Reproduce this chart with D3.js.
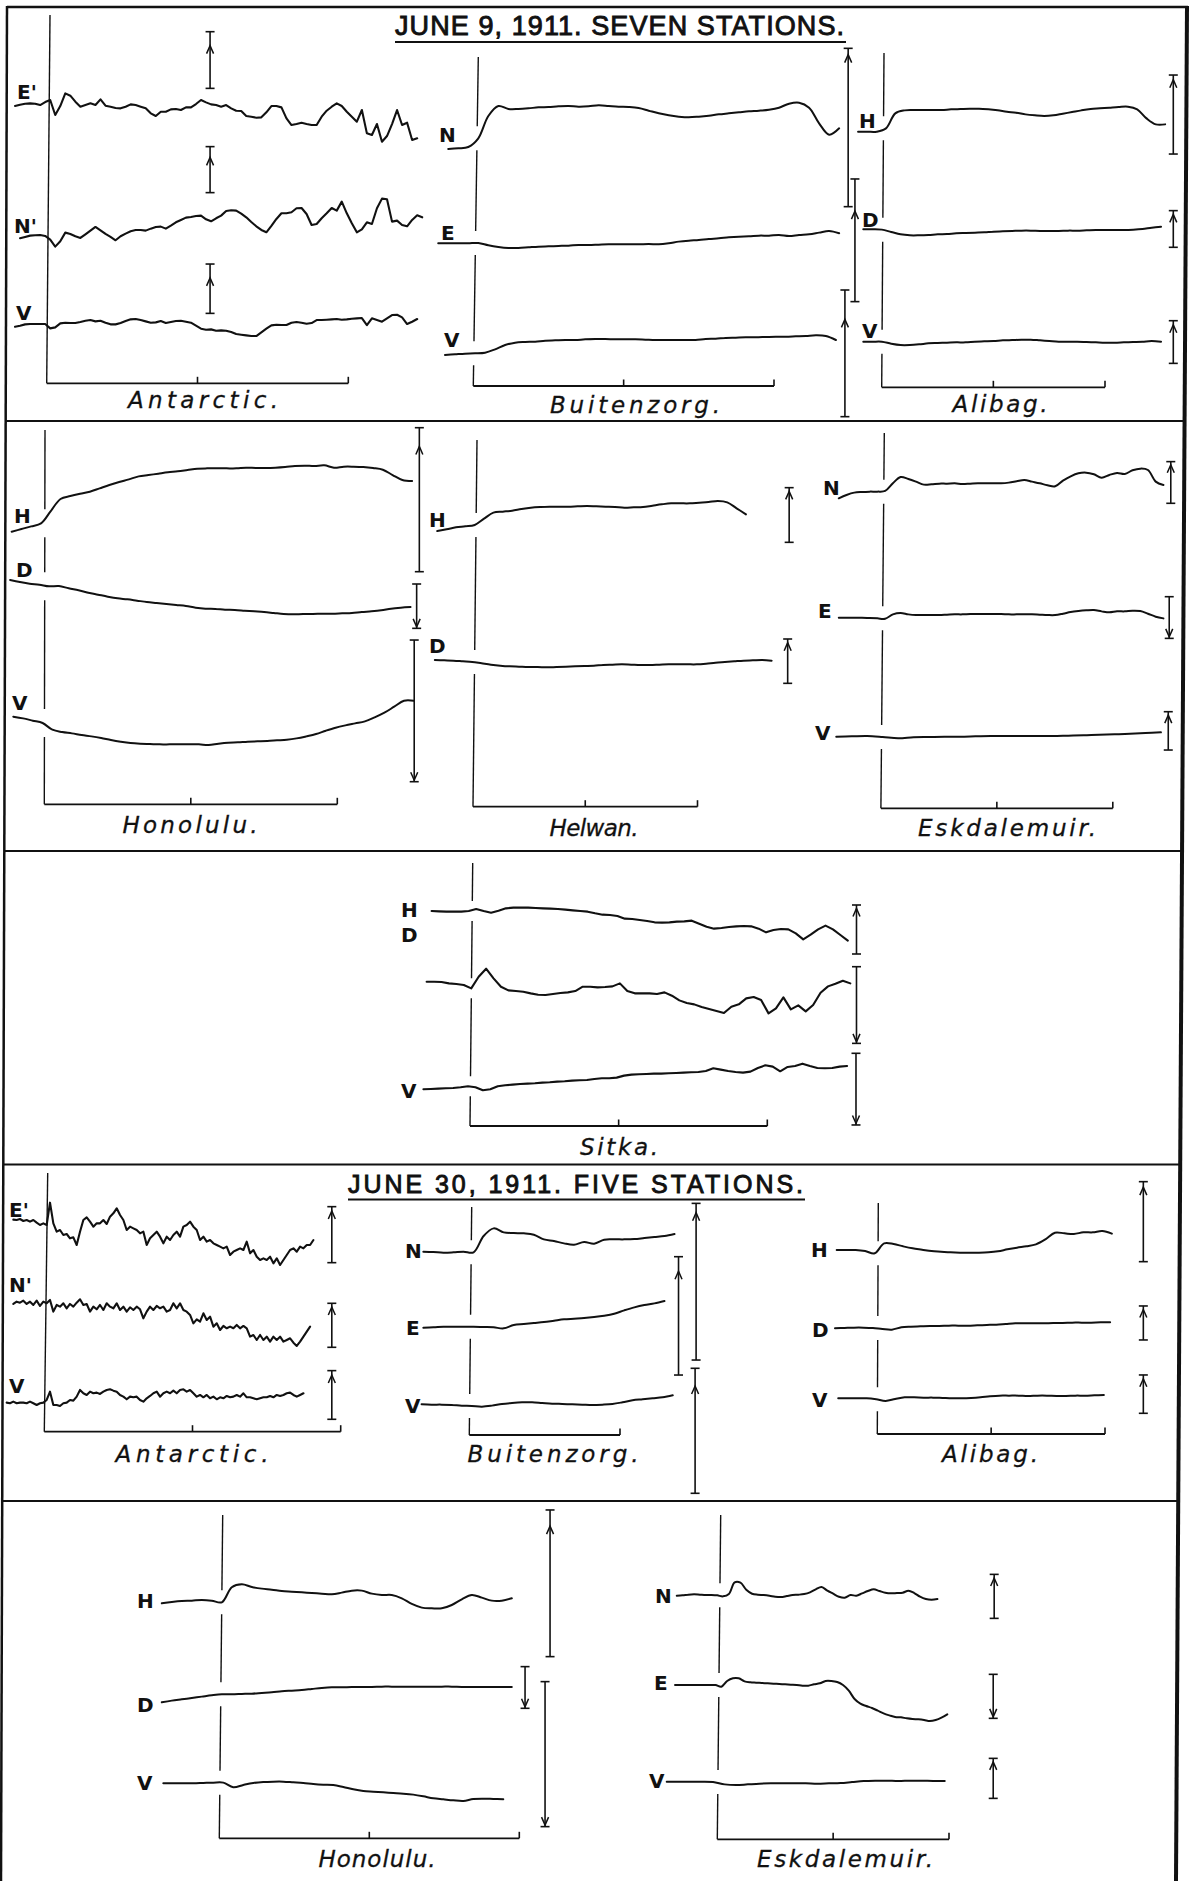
<!DOCTYPE html>
<html><head><meta charset="utf-8">
<script src="https://cdn.jsdelivr.net/npm/d3@7"></script>
<style>html,body{margin:0;padding:0;background:#fff}svg{display:block}</style>
</head><body>
<svg id="c" width="1193" height="1881"></svg>
<script>
// ---------------- DATA (deflections, arbitrary plate units, positive = up) ----------------
const titles = ["JUNE 9, 1911. SEVEN STATIONS.", "JUNE 30, 1911. FIVE STATIONS."];
const stationNames = ["Antarctic.","Buitenzorg.","Alibag.","Honolulu.","Helwan.","Eskdalemuir.","Sitka.",
                      "Antarctic.","Buitenzorg.","Alibag.","Honolulu.","Eskdalemuir."];
const bracketMinutes = [120,120,120,120,120,120,120,120,60,120,120,120];

// June 9 — Antarctic (E', N', V), step 2 min
const j9AntE = [2,6,9,10,9,5,14,20,-25,2,40,33,15,0,5,10,5,22,3,0,-4,-5,0,7,5,0,-5,-20,-28,-15,-15,-8,-7,-10,-2,-2,8,20,13,7,5,0,5,-5,-12,-13,-28,-30,-33,-32,-17,2,2,-2,-35,-55,-52,-48,-52,-55,-55,-30,-12,0,10,2,-15,-30,-45,-10,-80,-85,-52,-105,-88,-52,-10,-55,-48,-100,-95];
const j9AntN = [0,4,8,9,10,7,-4,-25,-9,17,13,6,1,12,23,34,24,13,4,-6,6,14,21,25,25,23,29,34,35,29,38,48,55,62,64,67,68,57,51,60,68,82,84,83,74,63,49,36,25,18,37,58,75,75,78,90,91,73,40,43,60,75,91,83,110,75,45,18,27,48,43,90,119,117,50,53,40,36,55,69,63];
const j9AntV = [0,3,7,8,8,8,8,-5,-2,10,12,11,11,14,18,20,16,18,12,7,7,11,17,22,23,20,16,12,13,17,11,14,17,18,15,12,3,-6,-9,-8,-12,-11,-12,-16,-22,-24,-26,-28,-28,-17,-6,4,6,5,5,12,14,12,9,11,20,20,21,22,23,21,22,24,25,26,5,25,20,15,25,35,36,28,8,15,23];
// June 9 — Buitenzorg (N, E, V), step 4 min
const j9BuiN = [0,2,6,32,99,129,120,120,122,125,126,128,129,127,128,131,129,127,126,123,115,107,101,97,95,97,100,104,107,110,113,115,118,124,136,139,124,77,43,62];
const j9BuiE = [0,0,0,0,1,-6,-11,-14,-14,-12,-10,-9,-8,-7,-5,-5,-4,-3,-3,-3,-3,-2,-3,0,5,8,10,13,15,18,20,21,23,23,25,22,25,27,32,37,30];
const j9BuiV = [0,2,4,5,7,17,30,37,39,40,43,44,45,45,47,48,48,47,47,47,46,45,45,45,45,45,48,49,51,52,53,53,54,55,55,56,57,59,57,45];
// June 9 — Alibag (H, D, V), step 5 min
const j9AliH = [0,0,0,10,55,64,65,65,65,65,67,68,69,69,67,64,60,57,52,49,47,49,54,59,64,68,70,72,74,75,67,40,22,22];
const j9AliD = [0,0,-1,-8,-15,-18,-18,-17,-15,-14,-12,-11,-10,-9,-7,-6,-5,-4,-4,-5,-5,-5,-4,-4,-3,-2,-2,-2,-2,-1,1,5,8];
const j9AliV = [0,0,0,-6,-10,-10,-8,-5,-4,-3,-2,-2,0,1,2,4,5,6,6,4,2,0,0,0,-1,-2,-3,-3,-2,-1,0,2,0];
// June 9 — Honolulu (H, D, V), step 4 min
const j9HonH = [0,8,16,25,62,98,107,114,120,130,140,149,157,166,170,174,178,181,185,189,190,190,190,190,192,191,191,192,194,197,198,197,199,192,195,195,194,191,186,170,155,152];
const j9HonD = [0,-6,-11,-14,-19,-18,-25,-31,-38,-44,-50,-55,-58,-62,-66,-69,-72,-75,-78,-83,-86,-87,-89,-90,-92,-94,-96,-99,-102,-103,-102,-102,-101,-101,-100,-99,-96,-94,-91,-86,-83,-81];
const j9HonV = [0,-5,-12,-19,-39,-46,-50,-55,-59,-64,-70,-75,-79,-81,-82,-83,-83,-83,-83,-83,-85,-81,-78,-77,-75,-74,-73,-71,-69,-65,-59,-52,-42,-33,-26,-20,-14,-2,12,30,48,48];
// June 9 — Helwan (H, D), step 5 min
const j9HelH = [0,5,11,14,18,37,55,58,61,66,70,72,73,73,73,74,75,74,73,72,70,71,72,76,80,83,83,83,85,87,90,86,68,50];
const j9HelD = [0,-1,-2,-4,-6,-10,-14,-17,-19,-20,-21,-21,-22,-21,-20,-19,-18,-17,-15,-14,-13,-14,-15,-15,-14,-13,-13,-13,-13,-11,-8,-6,-4,-2,-1,0,-2];
// June 9 — Eskdalemuir (N, E step 4 min; V step 8 min)
const j9EskN = [0,10,17,19,20,20,22,45,64,58,50,41,42,44,44,45,43,44,45,45,45,45,47,51,55,50,45,39,36,53,66,75,77,72,62,70,76,73,84,89,85,50,40];
const j9EskE = [0,0,0,0,-1,-2,-3,10,14,10,8,8,8,8,9,10,10,11,11,11,11,11,10,10,10,10,9,8,8,12,17,20,22,23,19,16,19,19,21,20,12,3,-2];
const j9EskV = [0,1,2,-1,-5,-2,-1,0,0,1,2,2,2,2,2,3,4,6,7,9,11,13];
// June 9 — Sitka (H, D, V), step 3 min
const j9SitH = [0,-1,-2,-2,-2,0,6,0,-5,1,8,10,10,10,9,8,7,6,4,2,0,-2,-7,-11,-12,-15,-23,-24,-27,-30,-34,-35,-34,-32,-31,-29,-38,-47,-53,-51,-48,-46,-45,-46,-53,-64,-57,-54,-55,-67,-85,-71,-55,-44,-55,-72,-89];
const j9SitD = [0,0,-1,-5,-7,-10,-20,15,39,10,-15,-26,-28,-30,-35,-39,-40,-37,-34,-32,-28,-15,-15,-17,-16,-14,-5,-28,-35,-35,-35,-37,-32,-42,-56,-64,-68,-76,-82,-88,-94,-75,-68,-50,-46,-55,-95,-80,-47,-83,-71,-89,-70,-33,-14,-6,3,-5];
const j9SitV = [0,1,2,3,4,6,9,6,-3,0,9,12,14,16,17,18,20,21,23,24,26,27,28,31,33,33,35,41,44,45,46,47,47,48,49,50,51,52,55,63,59,55,52,50,53,64,72,68,54,67,70,77,70,64,63,64,68,70];
// June 30 — Antarctic (E', N', V), step 1.35 min
const j30AntE = [1,0,3,-3,0,-5,0,-8,-15,-10,-15,52,-10,-35,-30,-45,-42,-55,-52,-75,-35,0,8,-5,-20,-10,-10,0,-12,10,20,35,15,0,-30,-20,-25,-30,-40,-35,-75,-55,-45,-35,-50,-70,-50,-60,-45,-35,-50,-20,-15,-5,-20,-30,-60,-50,-65,-60,-70,-75,-80,-85,-80,-105,-95,-90,-85,-90,-65,-100,-90,-110,-120,-115,-120,-110,-130,-115,-135,-120,-105,-90,-85,-95,-80,-85,-75,-75,-60];
const j30AntN = [-2,5,2,8,-2,5,-5,8,-8,5,0,10,-25,-5,-10,0,-15,-2,-10,2,12,-5,-2,-25,-10,-18,-5,-20,0,-10,-15,0,-20,-10,-25,-12,-20,-10,-18,-45,-25,-10,-20,-8,-15,-10,-25,-20,0,-15,0,-20,-25,-35,-60,-48,-55,-30,-50,-40,-70,-60,-80,-68,-75,-70,-75,-65,-75,-68,-75,-100,-95,-110,-95,-110,-100,-115,-100,-110,-100,-115,-110,-105,-118,-128,-115,-100,-85,-70];
const j30AntV = [2,0,5,0,2,2,0,5,0,-5,0,2,10,35,-5,-5,-8,0,2,10,8,20,40,30,25,35,30,32,28,35,40,42,38,35,25,20,12,20,18,20,10,5,15,22,30,35,20,30,35,30,38,30,40,42,35,40,30,20,25,18,25,15,20,12,18,15,22,18,20,25,20,30,18,18,15,12,15,18,18,22,18,25,22,25,30,32,25,20,25,30];
// June 30 — Buitenzorg (N, E, V), step 4 min
const j30BuiN = [0,-1,-3,-2,0,-2,47,70,58,56,55,51,37,32,25,21,29,24,36,37,37,38,41,44,47,53];
const j30BuiE = [0,1,3,3,3,3,2,1,-2,8,11,14,17,21,25,27,29,32,36,42,52,61,68,73,80];
const j30BuiV = [0,-1,-1,-2,-4,-5,-7,-4,1,4,6,6,4,2,1,0,-1,-2,-1,1,6,12,15,18,21,27];
// June 30 — Alibag (H, D, V), step 5 min
const j30AliH = [0,0,0,-3,-10,20,18,11,5,1,-3,-5,-7,-8,-8,-8,-7,-4,2,7,11,17,32,52,50,48,53,53,57,49];
const j30AliD = [0,1,2,2,1,-2,-4,3,5,6,7,7,8,8,8,9,10,11,13,15,15,15,15,16,16,17,17,17,18,18];
const j30AliV = [0,0,0,0,-3,-8,-2,3,3,2,2,1,0,0,1,3,6,8,8,8,7,8,8,7,7,8,8,9,10];
// June 30 — Honolulu (H, D, V), step 4 min
const j30HonH = [0,4,7,8,10,8,3,48,57,49,44,41,37,35,33,31,29,27,32,38,38,29,25,25,15,-2,-13,-15,-15,-5,12,25,17,8,8,15];
const j30HonD = [0,5,9,13,17,21,24,24,25,26,28,30,33,35,37,40,43,45,45,46,46,46,47,47,47,47,47,47,47,47,46,46,46,46,46,46];
const j30HonV = [0,0,0,0,1,2,2,-12,-5,1,4,5,5,3,1,-2,-4,-5,-11,-18,-23,-25,-27,-29,-31,-34,-39,-45,-48,-51,-53,-47,-46,-47,-48];
// June 30 — Eskdalemuir (N, E step 3 min; V step 6 min)
const j30EskN = [0,1,3,4,3,2,2,1,-2,5,40,39,18,6,3,2,0,-3,-4,-1,2,3,5,10,19,26,15,6,-3,-6,2,0,7,14,19,14,9,7,8,9,15,8,-3,-10,-12,-10];
const j30EskE = [0,0,0,0,0,0,0,0,-5,12,20,20,11,8,7,6,5,4,3,2,1,0,-2,-2,2,5,12,12,9,0,-17,-42,-56,-63,-69,-77,-85,-91,-96,-97,-100,-102,-103,-105,-108,-105,-98,-88];
const j30EskV = [0,0,0,0,-1,-8,-10,-8,-6,-5,-5,-5,-5,-6,-5,-4,-1,2,3,3,2,3,3,2,2];

// ---------------- LAYOUT ----------------
// trace: [label, labelX, labelBaseline, values, startMinute, stepMinutes, baselineY, jagged]
// bar:   [minute, traceIndex, topValue, bottomValue, arrowDir, arrowFraction]
const layout = [
 {n:0, x0:46.7, x1:348.3, by:383.3, top:15, slant:3.3, gap:0, nx:203, ny:408, nw:150,
  tr:[["E'",17,99,j9AntE,-12.6,2,106.7,1],["N'",14,233,j9AntN,-10.6,2,238.3,1],["V",16,320,j9AntV,-12.6,2,326.7,1]],
  bars:[[65,0,225,55,'u',0.22],[65,1,275,137,'u',0.2],[65,2,188,40,'u',0.25]]},
 {n:1, x0:473.3, x1:774, by:386, top:57, slant:5, gap:12, nx:635, ny:413, nw:170,
  tr:[["N",439,141.7,j9BuiN,-10,4,149,0],["E",441,240,j9BuiE,-14,4,243.3,0],["V",444,346.7,j9BuiV,-11.3,4,355,0]],
  bars:[[149.6,0,302,-173,'u',0.03],[152.3,1,193,-175,'u',0.25],[148.3,2,195,-185,'u',0.22]]},
 {n:2, x0:881.7, x1:1105, by:387.3, top:53, slant:2.3, gap:12, nx:1000, ny:412, nw:95,
  tr:[["H",859,128,j9AliH,-12.7,5,131.7,0],["D",862,227,j9AliD,-9.9,5,229.3,0],["V",862,338,j9AliV,-9.9,5,341.7,0]],
  bars:[[156.7,0,170,-67,'u',0.04],[156.7,1,56,-54,'u',0.06],[156.7,2,63,-65,'u',0.06]]},
 {n:3, x0:44.3, x1:337.3, by:804.3, top:430, slant:0.7, gap:14, nx:190, ny:833, nw:135,
  tr:[["H",14,523,j9HonH,-13.35,4,531.7,0],["D",16,577,j9HonD,-14,4,580,0],["V",12,710,j9HonV,-12.7,4,716.7,0]],
  bars:[[153.6,0,312,-120,'u',0.12],[152.5,1,-12,-145,'d',1],[151.5,2,230,-195,'d',1]]},
 {n:4, x0:473, x1:697.5, by:806.7, top:440, slant:4, gap:12, nx:594, ny:836, nw:89,
  tr:[["H",429,527,j9HelH,-19.1,5,531,0],["D",429,653,j9HelD,-20.4,5,660,0]],
  bars:[[169,0,130,-34,'u',0.04],[168.2,1,63,-70,'u',0.05]]},
 {n:5, x0:880.9, x1:1112.8, by:808.3, top:433, slant:3.4, gap:12, nx:1007, ny:836, nw:178,
  tr:[["N",823,495,j9EskN,-21.8,4,498.3,0],["E",818,618,j9EskE,-21.8,4,617.7,0],["V",815,740,j9EskV,-23.1,8,736.7,0]],
  bars:[[150,0,110,-15,'u',0.04],[149.2,1,63,-62,'d',1],[148.7,2,75,-40,'u',0.05]]},
 {n:6, x0:470, x1:767.3, by:1126, top:863, slant:2.7, gap:10, nx:619, ny:1155, nw:78,
  tr:[["H",401,917,j9SitH,-15.5,3,911,1],["D",401,942,j9SitD,-17.5,3,981.7,1],["V",401,1098,j9SitV,-18.8,3,1089.3,1]],
  bars:[[156,0,18,-129,'u',0.04],[156,1,45,-185,'d',1],[155.8,2,108,-107,'d',1]]},
 {n:7, x0:44.3, x1:340.7, by:1431.7, top:1173, slant:3.4, gap:0, nx:192, ny:1462, nw:153,
  tr:[["E'",9,1217,j30AntE,-12.54,1.35,1220,1],["N'",9,1292,j30AntN,-12.54,1.35,1303.3,1],["V",9,1393,j30AntV,-15.24,1.35,1403.3,1]],
  bars:[[116.4,0,40,-128,'u',0.05],[116.4,1,0,-132,'u',0.05],[116.4,2,98,-48,'u',0.06]]},
 {n:8, x0:469.3, x1:620, by:1435, top:1207, slant:2.4, gap:12, nx:553, ny:1462, nw:171,
  tr:[["N",405,1258,j30BuiN,-18.3,4,1251.7,0],["E",406,1335,j30BuiE,-18.3,4,1327.7,0],["V",405,1413,j30BuiV,-19,4,1404.3,0]],
  bars:[[90.3,0,145,-325,'u',0.05],[83.3,1,213,-142,'u',0.11],[89.9,2,108,-267,'u',0.13]]},
 {n:9, x0:877.3, x1:1105, by:1434, top:1203, slant:1, gap:12, nx:990, ny:1462, nw:96,
  tr:[["H",811,1257,j30AliH,-21.4,5,1250,0],["D",812,1337,j30AliD,-22.3,5,1328.3,0],["V",812,1407,j30AliV,-20.6,5,1398.3,0]],
  bars:[[140.2,0,205,-35,'u',0.05],[140.2,1,67,-35,'u',0.06],[140.2,2,70,-45,'u',0.06]]},
 {n:10, x0:219.3, x1:519.3, by:1838.3, top:1515, slant:3.4, gap:12, nx:377, ny:1867, nw:117,
  tr:[["H",137,1608,j30HonH,-23,4,1603.3,0],["D",137,1712,j30HonD,-23,4,1702.3,0],["V",137,1790,j30HonV,-22.4,4,1783.3,0]],
  bars:[[132.3,0,280,-160,'u',0.1],[122.3,1,107,-18,'d',1],[130.3,2,305,-130,'d',1]]},
 {n:11, x0:717.3, x1:949, by:1839.3, top:1515, slant:3.4, gap:12, nx:845, ny:1867, nw:176,
  tr:[["N",655,1603,j30EskN,-21,3,1595.7,0],["E",654,1690,j30EskE,-21.9,3,1685,0],["V",649,1788,j30EskV,-26.2,6,1781.7,0]],
  bars:[[143.4,0,64,-68,'u',0.05],[142.9,1,32,-100,'d',1],[142.9,2,70,-50,'u',0.05]]}
];

// ---------------- DRAW ----------------
const ink = "#111";
const svg = d3.select("#c");
svg.append("rect").attr("width",1193).attr("height",1881).attr("fill","#fff");

// frame
const leftX = y => 7 + (1 - 7) * (y - 7) / (1881 - 7);
const rightX = y => 1187 + (1176 - 1187) * (y - 7) / (1881 - 7);
const frame = svg.append("g").attr("stroke", ink).attr("fill","none");
frame.append("line").attr("x1",7).attr("y1",7).attr("x2",1188).attr("y2",7).attr("stroke-width",2.5);
frame.append("line").attr("x1",7).attr("y1",6).attr("x2",1).attr("y2",1881).attr("stroke-width",2.5);
frame.append("line").attr("x1",1187).attr("y1",6).attr("x2",1176).attr("y2",1881).attr("stroke-width",4);
[421, 851, 1164.5, 1501].forEach(y => {
  frame.append("line").attr("x1",leftX(y)).attr("y1",y).attr("x2",rightX(y)).attr("y2",y).attr("stroke-width",2.2);
});

// titles
const titlePos = [{x:395, y:35, w:449, fs:27, uy:42}, {x:348, y:1193, w:455, fs:25, uy:1199.5}];
titles.forEach((t, i) => {
  const p = titlePos[i];
  svg.append("text").attr("x",p.x).attr("y",p.y).attr("font-family","Liberation Sans, Arial, sans-serif")
    .attr("font-size",p.fs).attr("fill",ink).attr("stroke",ink).attr("stroke-width",0.9)
    .attr("textLength",p.w).attr("lengthAdjust","spacing").text(t);
  svg.append("line").attr("x1",p.x).attr("x2",p.x+p.w+2).attr("y1",p.uy).attr("y2",p.uy)
    .attr("stroke",ink).attr("stroke-width",2);
});

layout.forEach(st => {
  const span = bracketMinutes[st.n];
  const x = d3.scaleLinear().domain([0, span]).range([st.x0, st.x1]);
  const g = svg.append("g");

  // time bracket (hour marks)
  const ticks = d3.range(60, span + 1, 60);
  g.append("line").attr("x1",x(0)).attr("x2",x(span)).attr("y1",st.by).attr("y2",st.by)
    .attr("stroke",ink).attr("stroke-width",1.8);
  ticks.forEach(t => g.append("line").attr("x1",x(t)).attr("x2",x(t)).attr("y1",st.by).attr("y2",st.by-6.5)
    .attr("stroke",ink).attr("stroke-width",1.6));

  const ys = st.tr.map(tr => d3.scaleLinear().domain([0, 3]).range([tr[6], tr[6] - 1]));

  // commencement line with gaps at traces
  const cross = st.tr.map((tr, i) => {
    const idx = Math.max(0, Math.min(tr[3].length - 1, Math.round((0 - tr[4]) / tr[5])));
    return ys[i](tr[3][idx]);
  }).sort((a,b) => a-b);
  const lx = yy => x(0) + st.slant * (st.by - yy) / (st.by - st.top);
  let segs = [[st.top, st.by]];
  if (st.gap > 0) {
    cross.forEach(c => {
      const out = [];
      segs.forEach(([a,b]) => {
        if (c + st.gap <= a || c - st.gap >= b) out.push([a,b]);
        else { if (c - st.gap > a) out.push([a, c - st.gap]); if (c + st.gap < b) out.push([c + st.gap, b]); }
      });
      segs = out;
    });
  }
  segs.forEach(([a,b]) => g.append("line").attr("x1",lx(a)).attr("y1",a).attr("x2",lx(b)).attr("y2",b)
    .attr("stroke",ink).attr("stroke-width",1.4));

  // traces
  st.tr.forEach((tr, i) => {
    const y = ys[i];
    const pts = tr[3].map((v, k) => [x(tr[4] + k * tr[5]), y(v)]);
    const gen = d3.line().curve(tr[7] ? d3.curveLinear : d3.curveCatmullRom.alpha(0.5));
    g.append("path").attr("d", gen(pts)).attr("fill","none").attr("stroke",ink)
      .attr("stroke-width", tr[7] ? 2.1 : 2).attr("stroke-linejoin","round").attr("stroke-linecap","round");
    g.append("text").attr("x",tr[1]).attr("y",tr[2]).attr("font-family","DejaVu Sans, sans-serif")
      .attr("font-weight","bold").attr("font-size",20).attr("fill",ink).text(tr[0]);
  });

  // scale bars
  st.bars.forEach(b => {
    const bx = x(b[0]);
    const y = ys[b[1]];
    const y1 = y(b[2]), y2 = y(b[3]);
    const bg = g.append("g").attr("stroke",ink).attr("fill","none").attr("stroke-width",1.6);
    bg.append("line").attr("x1",bx).attr("x2",bx).attr("y1",y1).attr("y2",y2);
    [y1, y2].forEach(yy => bg.append("line").attr("x1",bx-4.5).attr("x2",bx+4.5).attr("y1",yy).attr("y2",yy));
    const tip = y1 + b[5] * (y2 - y1) + (b[4] === 'u' ? 1.5 : -1.5);
    const s = b[4] === 'u' ? 1 : -1;
    bg.append("path").attr("d",`M${bx-3.5},${tip + s*8}L${bx},${tip}L${bx+3.5},${tip + s*8}`).attr("stroke-width",1.5);
  });

  // station name
  g.append("text").attr("x",st.nx - st.nw/2).attr("y",st.ny).attr("font-family","DejaVu Sans, sans-serif")
    .attr("font-style","italic").attr("font-size",23).attr("fill",ink).attr("stroke",ink).attr("stroke-width",0.3)
    .attr("textLength",st.nw).attr("lengthAdjust","spacing").text(stationNames[st.n]);
});
</script>
</body></html>
